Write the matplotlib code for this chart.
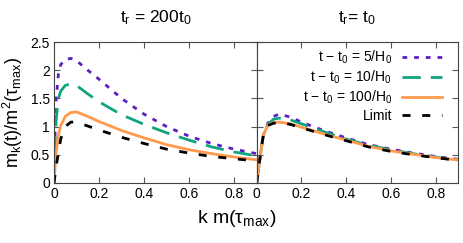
import matplotlib
matplotlib.use("Agg")
import matplotlib.pyplot as plt

plt.rcParams['font.family'] = ['Liberation Sans', 'DejaVu Sans']
plt.rcParams['mathtext.default'] = 'regular'

# k m(tau_max) sample points
k = [0, 0.005, 0.01, 0.02, 0.03, 0.05, 0.075, 0.1, 0.15, 0.2, 0.3, 0.4, 0.5, 0.6, 0.7, 0.8, 0.9]

# left panel: t_r = 200 t0
left_5 = [0, 0.9, 1.5, 1.95, 2.1, 2.19, 2.21, 2.17, 2.0, 1.84, 1.50, 1.22, 1.00, 0.83, 0.70, 0.60, 0.52]
left_10 = [0, 0.7, 1.15, 1.5, 1.63, 1.73, 1.76, 1.73, 1.58, 1.44, 1.21, 1.04, 0.89, 0.76, 0.64, 0.55, 0.48]
left_100 = [0, 0.3, 0.55, 0.85, 1.02, 1.18, 1.25, 1.26, 1.18, 1.09, 0.93, 0.80, 0.68, 0.59, 0.52, 0.46, 0.41]
left_lim = [0, 0.15, 0.3, 0.55, 0.78, 1.0, 1.08, 1.08, 1.01, 0.94, 0.81, 0.70, 0.60, 0.53, 0.47, 0.43, 0.39]

# right panel: t_r = t0
right_5 = [0, 0.15, 0.3, 0.6, 0.85, 1.06, 1.18, 1.22, 1.17, 1.08, 0.93, 0.80, 0.68, 0.60, 0.53, 0.47, 0.42]
right_10 = [0, 0.15, 0.3, 0.6, 0.85, 1.04, 1.13, 1.15, 1.12, 1.05, 0.91, 0.78, 0.67, 0.59, 0.52, 0.46, 0.41]
right_100 = [0, 0.15, 0.3, 0.6, 0.85, 1.03, 1.07, 1.08, 1.05, 0.99, 0.87, 0.76, 0.65, 0.57, 0.51, 0.45, 0.41]
right_lim = [0, 0.15, 0.3, 0.6, 0.85, 1.02, 1.06, 1.07, 1.04, 0.98, 0.86, 0.75, 0.64, 0.56, 0.50, 0.45, 0.40]

labels = ['t − t$_0$ = 5/H$_0$', 't − t$_0$ = 10/H$_0$', 't − t$_0$ = 100/H$_0$', 'Limit']
colors = ['#5b1ec2', '#10a37f', '#ff9a4d', 'black']
styles = [(0, (1.7, 2.5)), (0, (6.6, 3.6)), '-', (0, (2.9, 4.2))]

xticks = [0, 0.2, 0.4, 0.6, 0.8]
xticklabels = ['0', '0.2', '0.4', '0.6', '0.8']
yticks = [0, 0.5, 1, 1.5, 2, 2.5]
yticklabels = ['0', '0.5', '1', '1.5', '2', '2.5']

fig = plt.figure(figsize=(4.63, 2.43), dpi=100)
ax1 = fig.add_axes([0.1166, 0.247, 0.4378, 0.580])
ax2 = fig.add_axes([0.5544, 0.247, 0.4348, 0.580])

for ax, series, title in [(ax1, [left_5, left_10, left_100, left_lim], 't$_r$ = 200t$_0$'),
                          (ax2, [right_5, right_10, right_100, right_lim], 't$_r$= t$_0$')]:
    for y, lab, c, ls in zip(series, labels, colors, styles):
        ax.plot(k, y, color=c, linestyle=ls, lw=2, label=lab, dash_capstyle='butt')
    ax.set_xlim(0, 0.9)
    ax.set_ylim(0, 2.5)
    ax.set_xticks(xticks)
    ax.set_xticklabels(xticklabels, fontsize=10)
    ax.set_yticks(yticks)
    ax.tick_params(direction='in', top=True, right=True, length=4, color='#555555', pad=3)
    for s in ax.spines.values():
        s.set_color('#444444')
    ax.set_title(title, fontsize=12.5, pad=14)

ax1.set_yticklabels(yticklabels, fontsize=10)
ax2.set_yticklabels([])

ax2.legend(loc='upper right', bbox_to_anchor=(0.9205, 0.955), frameon=False,
           markerfirst=False, fontsize=10, handlelength=2.9, labelspacing=0.2,
           borderaxespad=0, borderpad=0, handletextpad=0.7)

fig.text(237 / 463, 1 - 218 / 243, 'k m(τ$_{max}$)', ha='center', va='center', fontsize=14)
ax1.set_ylabel('m$_k$(t)/m$^2$(τ$_{max}$)', fontsize=13, labelpad=4)

fig.savefig('out.png', dpi=100)
